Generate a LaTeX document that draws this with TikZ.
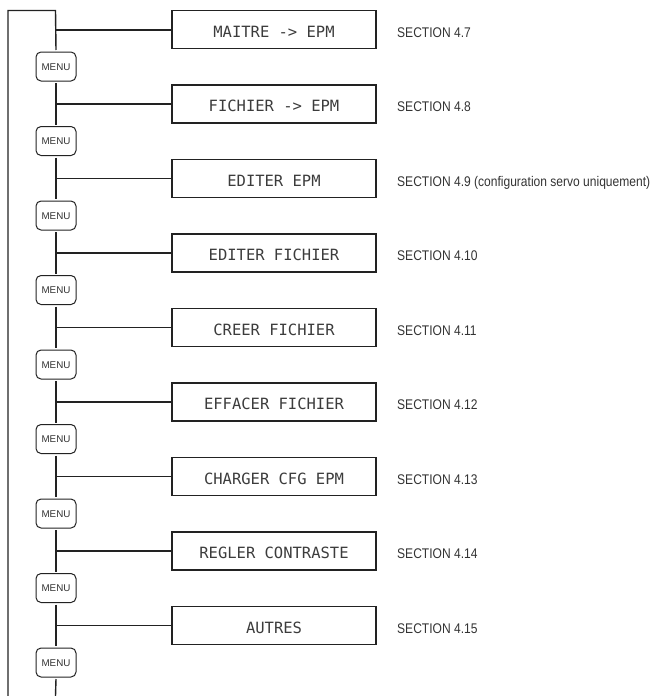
\documentclass[tikz,border=0pt]{standalone}
\usepackage{fontspec}
\setmainfont{Liberation Sans}
\newfontfamily\secfont[FakeStretch=0.86]{Liberation Sans}
\newfontfamily\boxfont{DejaVu Sans Mono}
\definecolor{linec}{HTML}{222222}
\definecolor{txtc}{HTML}{333333}
\definecolor{boxtc}{HTML}{3C3C3C}
\begin{document}
\begin{tikzpicture}[x=1pt,y=-1pt,
  trunk/.style={draw=linec,line width=1.4pt},
  branch/.style={draw=linec,line width=1.3pt},
  menubtn/.style={draw=linec,line width=1pt,rounded corners=5pt,minimum width=40pt,minimum height=29pt,inner sep=0pt,outer sep=2pt},
  itembox/.style={draw=linec,line width=1.6pt,minimum width=204pt,minimum height=38pt,inner sep=0pt},
  boxtxt/.style={anchor=base,inner sep=0pt,text=boxtc,font=\boxfont\fontsize{15.5}{17}\selectfont},
  sectxt/.style={anchor=base west,inner sep=0pt,text=txtc,font=\secfont\fontsize{14}{16}\selectfont},
  menutxt/.style={anchor=base,inner sep=0pt,text=txtc,font=\fontsize{9.8}{11}\selectfont}]
\useasboundingbox (0,0) rectangle (668,696);
\coordinate (bot) at (8,696);
\coordinate (corner) at (8,10.5);
\coordinate (top) at (55.5,10.5);
\coordinate (end) at (55.5,696);
\foreach \lab/\sec [count=\i from 0] in {
  {MAITRE -> EPM}/{SECTION 4.7},
  {FICHIER -> EPM}/{SECTION 4.8},
  {EDITER EPM}/{SECTION 4.9 (configuration servo uniquement)},
  {EDITER FICHIER}/{SECTION 4.10},
  {CREER FICHIER}/{SECTION 4.11},
  {EFFACER FICHIER}/{SECTION 4.12},
  {CHARGER CFG EPM}/{SECTION 4.13},
  {REGLER CONTRASTE}/{SECTION 4.14},
  {AUTRES}/{SECTION 4.15}}{
  \pgfmathsetmacro{\yy}{29.5+74.5*\i}
  \coordinate (j\i) at (55.5,\yy);
  \node[itembox] (b\i) at (274,\yy) {};
  \node[boxtxt] (bt\i) at (274,\yy+7.5) {\lab};
  \node[sectxt] (s\i) at (397,\yy+7.5) {\sec};
  \node[menubtn] (m\i) at (56,\yy+37) {};
  \node[menutxt] (mt\i) at (56,\yy+40.5) {MENU};
  \draw[branch] (j\i) -- (b\i.west);
}
\draw[trunk] (bot) -- (corner) -- (top) -- (m0.north);
\foreach \i [evaluate=\i as \k using int(\i+1)] in {0,...,7}{
  \draw[trunk] (m\i.south) -- (m\k.north);
}
\draw[trunk] (m8.south) -- (end);
\draw[branch,line width=2pt] (j0) -- (b0.west);
\end{tikzpicture}
\end{document}
